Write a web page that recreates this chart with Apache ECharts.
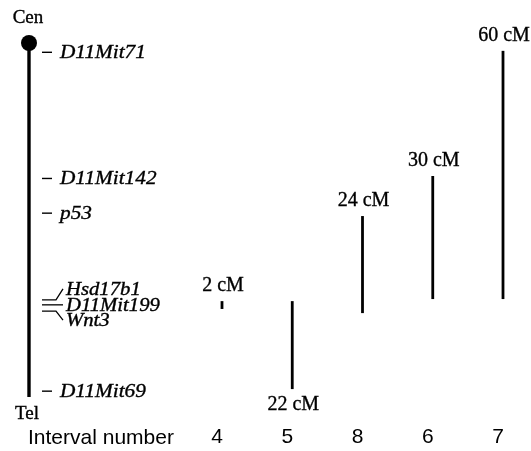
<!DOCTYPE html>
<html><head><meta charset="utf-8">
<script src="https://cdn.jsdelivr.net/npm/echarts@6/dist/echarts.min.js"></script>
<style>html,body{margin:0;padding:0;background:#fff}#c{width:531px;height:451px}</style>
</head><body><div id="c"></div>
<script>
// ---- data (positions along chromosome in cM, from centromere) ----
const intervals = ['4', '5', '8', '6', '7'];
const intervalStart = [62.5, 62.5, 41.9, 32.2, 1.9];
const intervalEnd = [64.4, 83.8, 65.4, 62.0, 62.0];
const intervalLabels = ['2 cM', '22 cM', '24 cM', '30 cM', '60 cM'];

const markerNames = ['D11Mit71', 'D11Mit142', 'p53', 'Hsd17b1', 'D11Mit199', 'Wnt3', 'D11Mit69'];
const markerPos = [2.25, 32.8, 41.2, 62.2, 63.4, 64.9, 84.3];

const chromosome = [0, 85.7];
const chromEndNames = ['Cen', 'Tel'];
const axisTitle = 'Interval number';

// ---- style-only settings ----
const labelBelow = [false, true, false, false, false];
const markerFan = [null, null, null, -11, 0, 9, null];
const INK = '#000';
const SERIF = 'Liberation Serif';
const SANS = 'Liberation Sans';
const HEAVY = { stroke: INK, lineWidth: 0.35 };

const chart = echarts.init(document.getElementById('c'));
const GRID_TOP = 43, GRID_BOTTOM = 36.3;

function txt(x, y, text, font, align, extra) {
  return Object.assign({
    type: 'text', x: x, y: y,
    style: Object.assign({ text: text, fill: INK, font: font, align: align, verticalAlign: 'middle' }, HEAVY)
  }, extra || {});
}

chart.setOption({
  animation: false,
  backgroundColor: '#fff',
  title: {
    text: axisTitle, left: 28, top: 428, padding: 0,
    textStyle: { fontFamily: SANS, fontSize: 21, fontWeight: 'normal', color: INK, lineHeight: 20 }
  },
  grid: [
    { left: 222, right: 28, top: GRID_TOP, bottom: GRID_BOTTOM },
    { left: 29, width: 100, top: GRID_TOP, bottom: GRID_BOTTOM }
  ],
  xAxis: [
    {
      gridIndex: 0, type: 'category', data: intervals, boundaryGap: false,
      axisLine: { show: false }, axisTick: { show: false }, splitLine: { show: false },
      axisLabel: { fontFamily: SANS, fontSize: 21, color: INK, margin: 12, padding: [0, 10, 0, 0] }
    },
    { gridIndex: 1, type: 'value', min: 0, max: 1, show: false }
  ],
  yAxis: [
    { gridIndex: 0, type: 'value', inverse: true, min: 0, max: 90, show: false },
    { gridIndex: 1, type: 'value', inverse: true, min: 0, max: 90, show: false }
  ],
  series: [
    {
      type: 'custom', xAxisIndex: 0, yAxisIndex: 0, clip: false,
      data: intervals.map((c, i) => [i, intervalStart[i], intervalEnd[i]]),
      renderItem(params, api) {
        const i = params.dataIndex;
        const a = api.coord([api.value(0), api.value(1)]);
        const b = api.coord([api.value(0), api.value(2)]);
        const below = labelBelow[i];
        return {
          type: 'group',
          children: [
            { type: 'line', shape: { x1: a[0], y1: a[1], x2: b[0], y2: b[1] },
              style: { stroke: INK, lineWidth: 2.8 } },
            txt(a[0] + 1, below ? b[1] + 16 : a[1] - 15, intervalLabels[i], '20px "' + SERIF + '"', 'center')
          ]
        };
      }
    },
    {
      type: 'custom', xAxisIndex: 1, yAxisIndex: 1, clip: false,
      data: [[0, chromosome[0], chromosome[1]]],
      renderItem(params, api) {
        const a = api.coord([0, api.value(1)]);
        const b = api.coord([0, api.value(2)]);
        return {
          type: 'group',
          children: [
            { type: 'line', shape: { x1: a[0], y1: a[1], x2: b[0], y2: b[1] },
              style: { stroke: INK, lineWidth: 3.4 } },
            { type: 'circle', shape: { cx: a[0], cy: a[1], r: 8 }, style: { fill: INK } },
            txt(a[0] - 1, a[1] - 25, chromEndNames[0], '19px "' + SERIF + '"', 'center'),
            txt(b[0] - 2, b[1] + 17, chromEndNames[1], '19px "' + SERIF + '"', 'center')
          ]
        };
      }
    },
    {
      type: 'custom', xAxisIndex: 1, yAxisIndex: 1, clip: false,
      data: markerPos.map(v => [0, v]),
      renderItem(params, api) {
        const i = params.dataIndex;
        const p = api.coord([0, api.value(1)]);
        const x0 = p[0], y = p[1];
        const fan = markerFan[i];
        const font = 'italic 19px "' + SERIF + '"';
        if (fan === null) {
          return {
            type: 'group',
            children: [
              { type: 'line', shape: { x1: x0 + 13, y1: y, x2: x0 + 23, y2: y },
                style: { stroke: INK, lineWidth: 1.4 } },
              txt(x0 + 31, y + 1, markerNames[i], font, 'left', { scaleX: 1.12 })
            ]
          };
        }
        return {
          type: 'group',
          children: [
            { type: 'polyline',
              shape: { points: [[x0 + 13, y], [x0 + 27, y], [x0 + 34, y + fan]] },
              style: { stroke: INK, lineWidth: 1.3, fill: null } },
            txt(x0 + 37, y + fan + 1, markerNames[i], 'italic 18px "' + SERIF + '"', 'left', { scaleX: 1.15 })
          ]
        };
      }
    }
  ]
});
</script>
</body></html>
